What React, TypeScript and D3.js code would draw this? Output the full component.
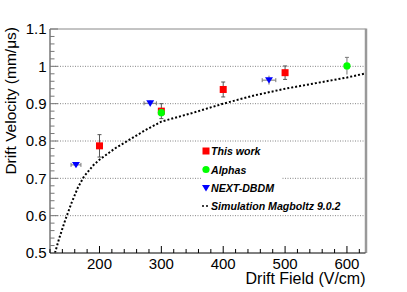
import React from "react";
import * as d3 from "d3";

const thisWorkField = [200, 300, 400, 500];
const thisWorkVel = [0.787, 0.88, 0.938, 0.983];
const thisWorkErr = [0.03, 0.02, 0.02, 0.018];

const alphasField = [300, 600];
const alphasVel = [0.876, 1.001];
const alphasErr = [0.008, 0.023];

const nextField = [162, 282, 474];
const nextVel = [0.736, 0.901, 0.963];
const nextFieldErr = [8, 10, 11];
const nextVelErr = [0.006, 0.008, 0.012];

const simField = [128, 135, 145, 155, 165, 175, 190, 200, 225, 250, 275, 300, 350, 400, 450, 500, 550, 600, 630];
const simVel = [0.5, 0.54, 0.59, 0.635, 0.675, 0.705, 0.735, 0.75, 0.78, 0.805, 0.83, 0.852, 0.875, 0.9, 0.922, 0.94, 0.955, 0.97, 0.981];

const xTicks = [200, 300, 400, 500, 600];
const yTicks = [0.5, 0.6, 0.7, 0.8, 0.9, 1, 1.1];
const yTickLabels = ["0.5", "0.6", "0.7", "0.8", "0.9", "1", "1.1"];

const legendLabels = ["This work", "Alphas", "NEXT-DBDM", "Simulation Magboltz 9.0.2"];

const W = 407, H = 292;
const L = 50, R = 365.5, T = 29, B = 253;
const FONT = "'Liberation Sans', Arial, Helvetica, sans-serif";

export default function App() {
  const x = d3.scaleLinear().domain([120, 630]).range([L, R]);
  const y = d3.scaleLinear().domain([0.5, 1.1]).range([B, T]);

  const xMinor = d3.range(120, 631, 20);
  const yMinor = d3.range(0.5, 1.1001, 0.02);

  const line = d3.line<number>().x((_, i) => x(simField[i])).y((d) => y(d));

  const tri = (cx: number, cy: number, s = 4) =>
    `M${cx - s},${cy - s * 0.75} L${cx + s},${cy - s * 0.75} L${cx},${cy + s * 0.85} Z`;

  const legX = 206;
  const legY = [151, 169.5, 188, 206];

  return (
    <svg width={W} height={H} style={{ position: "absolute", left: 0, top: 0, background: "#fff" }} fontFamily={FONT}>
      <rect x={0} y={0} width={W} height={H} fill="#fff" />
      {/* grid */}
      {[0.6, 0.7, 0.8, 0.9, 1.0].map((v) => (
        <line key={v} x1={L} x2={R} y1={y(v)} y2={y(v)} stroke="#666" strokeWidth={0.8} strokeDasharray="1,1.5" />
      ))}
      {/* legend box (white, no border) */}
      <rect x={202} y={142.5} width={79} height={72} fill="#fff" />

      {/* simulation curve */}
      <path d={line(simVel) || ""} fill="none" stroke="#000" strokeWidth={2} strokeDasharray="2,2" />

      {/* NEXT-DBDM */}
      {nextField.map((f, i) => {
        const cx = x(f), cy = y(nextVel[i]);
        const x0 = x(f - nextFieldErr[i]), x1 = x(f + nextFieldErr[i]);
        return (
          <g key={"n" + i}>
            <line x1={x0} x2={x1} y1={cy} y2={cy} stroke="#777" strokeWidth={1} />
            <line x1={x0} x2={x0} y1={cy - 2} y2={cy + 2} stroke="#777" strokeWidth={1} />
            <line x1={x1} x2={x1} y1={cy - 2} y2={cy + 2} stroke="#777" strokeWidth={1} />
            <line x1={cx} x2={cx} y1={y(nextVel[i] + nextVelErr[i])} y2={y(nextVel[i] - nextVelErr[i])} stroke="#777" strokeWidth={1} />
            <path d={tri(cx, cy)} fill="#0000ff" />
          </g>
        );
      })}

      {/* This work */}
      {thisWorkField.map((f, i) => {
        const cx = x(f), cy = y(thisWorkVel[i]);
        const y0 = y(thisWorkVel[i] + thisWorkErr[i]), y1 = y(thisWorkVel[i] - thisWorkErr[i]);
        return (
          <g key={"t" + i}>
            <line x1={cx} x2={cx} y1={y0} y2={y1} stroke="#555" strokeWidth={1} />
            <line x1={cx - 2} x2={cx + 2} y1={y0} y2={y0} stroke="#555" strokeWidth={1} />
            <line x1={cx - 2} x2={cx + 2} y1={y1} y2={y1} stroke="#555" strokeWidth={1} />
            <rect x={cx - 3.5} y={cy - 3.5} width={7} height={7} fill="#ff0000" />
          </g>
        );
      })}

      {/* Alphas */}
      {alphasField.map((f, i) => {
        const cx = x(f), cy = y(alphasVel[i]);
        const y0 = y(alphasVel[i] + alphasErr[i]), y1 = y(alphasVel[i] - alphasErr[i]);
        return (
          <g key={"a" + i}>
            <line x1={cx} x2={cx} y1={y0} y2={y1} stroke="#777" strokeWidth={1} />
            <line x1={cx - 2} x2={cx + 2} y1={y0} y2={y0} stroke="#777" strokeWidth={1} />
            <circle cx={cx} cy={cy} r={3.6} fill="#00ff00" />
          </g>
        );
      })}

      {/* frame */}
      <line x1={L} x2={R} y1={T} y2={T} stroke="#888" strokeWidth={1} />
      <line x1={R + 0.5} x2={R + 0.5} y1={T - 0.5} y2={B} stroke="#999" strokeWidth={2.5} />
      <line x1={L} x2={L} y1={T} y2={B} stroke="#777" strokeWidth={1.5} />
      <line x1={L} x2={R} y1={B} y2={B} stroke="#000" strokeWidth={1} />

      {/* y ticks */}
      {yMinor.map((v, i) => {
        const major = i % 5 === 0;
        return <line key={"ym" + i} x1={L} x2={L + (major ? 8 : 4.5)} y1={y(v)} y2={y(v)} stroke="#777" strokeWidth={1} />;
      })}
      {yTicks.map((v, i) => (
        <text key={"yl" + i} x={46.5} y={y(v) + 5.3} textAnchor="end" fontSize={15} fill="#000">
          {yTickLabels[i]}
        </text>
      ))}

      {/* x ticks */}
      {xMinor.map((v, i) => {
        const major = v % 100 === 0;
        return <line key={"xm" + i} x1={x(v)} x2={x(v)} y1={B} y2={B - (major ? 7 : 4)} stroke="#000" strokeWidth={1} />;
      })}
      {xTicks.map((v) => (
        <text key={"xl" + v} x={x(v)} y={268.5} textAnchor="middle" fontSize={15} fill="#000">
          {v}
        </text>
      ))}

      {/* axis titles */}
      <text x={R} y={284} textAnchor="end" fontSize={16} fill="#000">
        Drift Field (V/cm)
      </text>
      <text transform={`translate(16,27) rotate(-90)`} textAnchor="end" fontSize={15.5} fill="#000">
        Drift Velocity (mm/μs)
      </text>

      {/* legend */}
      <rect x={legX - 3.5} y={legY[0] - 3.5} width={7} height={7} fill="#ff0000" />
      <circle cx={legX} cy={legY[1]} r={3.6} fill="#00ff00" />
      <path d={tri(legX, legY[2])} fill="#0000ff" />
      <line x1={legX - 4} x2={legX + 3} y1={legY[3]} y2={legY[3]} stroke="#000" strokeWidth={1.5} strokeDasharray="2,2" />
      {legendLabels.map((t, i) => (
        <text key={"lg" + i} x={211} y={legY[i] + 4} fontSize={10.6} fontWeight="bold" fontStyle="italic" fill="#000">
          {t}
        </text>
      ))}
    </svg>
  );
}
